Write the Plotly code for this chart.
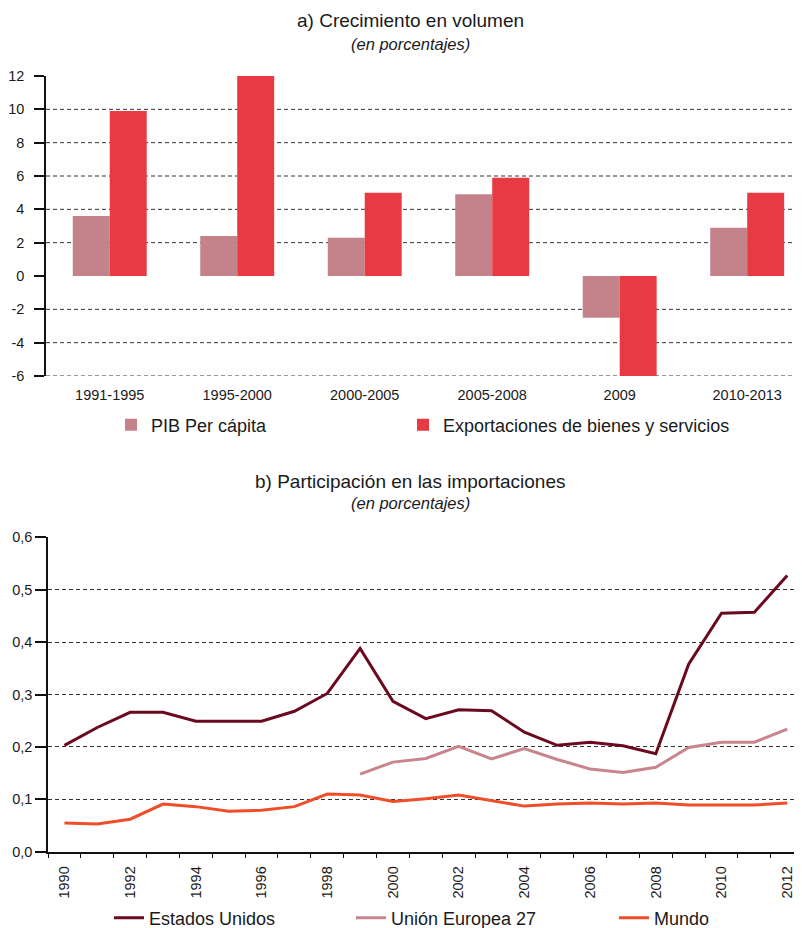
import plotly.graph_objects as go

# ---------------- data: panel a ----------------
periods = ["1991-1995", "1995-2000", "2000-2005", "2005-2008", "2009", "2010-2013"]
pib_per_capita = [3.6, 2.4, 2.3, 4.9, -2.5, 2.9]
exportaciones = [9.9, 12.1, 5.0, 5.9, -6.0, 5.0]
ytick_vals_a = [-6, -4, -2, 0, 2, 4, 6, 8, 10, 12]
ytick_text_a = ["-6", "-4", "-2", "0", "2", "4", "6", "8", "10", "12"]
grid_vals_a = [-6, -4, -2, 2, 4, 6, 8, 10]

# ---------------- data: panel b ----------------
years = list(range(1990, 2013))
estados_unidos = [0.203, 0.237, 0.266, 0.266, 0.249, 0.249, 0.249, 0.268, 0.302, 0.388,
                  0.287, 0.254, 0.271, 0.269, 0.228, 0.203, 0.209, 0.202, 0.187, 0.358,
                  0.455, 0.457, 0.527]
union_europea = [None] * 9 + [0.148, 0.171, 0.178, 0.201, 0.177, 0.197, 0.176, 0.158,
                              0.151, 0.161, 0.199, 0.209, 0.209, 0.234]
mundo = [0.055, 0.053, 0.062, 0.091, 0.086, 0.077, 0.079, 0.086, 0.110, 0.108,
         0.096, 0.101, 0.108, 0.098, 0.087, 0.091, 0.093, 0.091, 0.093, 0.089,
         0.089, 0.089, 0.093]
xtick_years_b = list(range(1990, 2013, 2))
ytick_vals_b = [0.0, 0.1, 0.2, 0.3, 0.4, 0.5, 0.6]
ytick_text_b = ["0,0", "0,1", "0,2", "0,3", "0,4", "0,5", "0,6"]

# ---------------- styling ----------------
PAGE_OFF = 8            # default body margin of the html page
W, H = 802 - PAGE_OFF, 928 - PAGE_OFF
FONT = "Liberation Sans, Arial, sans-serif"
TXT = "#1a1a1a"
C_PIB = "#c4828a"
C_EXP = "#e83a42"
C_US = "#6b0a1e"
C_EU = "#c9858d"
C_MUNDO = "#f04e28"

def py(px):
    return 1 - (px - PAGE_OFF) / H

def pxx(px):
    return (px - PAGE_OFF) / W

dom_a = [py(376), py(76)]
dom_b = [py(851.7), py(537.3)]
xdom_a = [pxx(46), 1]
xdom_b = [pxx(48), 1]

fig = go.Figure()

fig.add_trace(go.Bar(x=periods, y=pib_per_capita, name="PIB Per cápita",
                     marker=dict(color=C_PIB, line=dict(width=0)),
                     xaxis="x", yaxis="y", legend="legend"))
fig.add_trace(go.Bar(x=periods, y=exportaciones, name="Exportaciones de bienes y servicios",
                     marker=dict(color=C_EXP, line=dict(width=0)),
                     xaxis="x", yaxis="y", legend="legend2"))

fig.add_trace(go.Scatter(x=years, y=estados_unidos, name="Estados Unidos", mode="lines",
                         line=dict(color=C_US, width=3), xaxis="x3", yaxis="y3",
                         legend="legend3"))
fig.add_trace(go.Scatter(x=years, y=union_europea, name="Unión Europea 27", mode="lines",
                         line=dict(color=C_EU, width=3), xaxis="x3", yaxis="y3",
                         legend="legend4"))
fig.add_trace(go.Scatter(x=years, y=mundo, name="Mundo", mode="lines",
                         line=dict(color=C_MUNDO, width=3), xaxis="x3", yaxis="y3",
                         legend="legend5"))

# gridlines panel a (no line at the top value)
shapes = []
for v in grid_vals_a:
    shapes.append(dict(type="line", xref="x domain", yref="y", x0=0, x1=1, y0=v, y1=v,
                       line=dict(color="#333333", width=1, dash="4px,3px"), layer="below"))

zero_pos = dom_a[0] + (dom_a[1] - dom_a[0]) * (0 - (-6)) / 18.0

xrange_a = [-0.5, 5.43]

def leg(text_x_px, y_px):
    return dict(x=pxx(text_x_px - 41), y=py(y_px), xanchor="left", yanchor="middle",
                orientation="h", bgcolor="rgba(0,0,0,0)",
                font=dict(family=FONT, size=18, color=TXT))

def title(text, y_px, size):
    return dict(text=text, x=pxx(410), y=py(y_px), xref="paper", yref="paper",
                xanchor="center", yanchor="middle", showarrow=False,
                font=dict(family=FONT, size=size, color=TXT))

fig.update_layout(
    width=W, height=H,
    margin=dict(l=0, r=0, t=0, b=0, autoexpand=False),
    paper_bgcolor="white", plot_bgcolor="white",
    font=dict(family=FONT, size=14, color=TXT),
    barmode="group", bargap=0.42, bargroupgap=0,
    showlegend=True,
    shapes=shapes,
    xaxis=dict(domain=xdom_a, anchor="y", type="category", range=xrange_a,
               showline=False, ticks="", showgrid=False, automargin=False,
               tickfont=dict(size=14.5, color=TXT), ticklabelstandoff=8),
    xaxis2=dict(domain=xdom_a, overlaying="x", anchor="free", position=zero_pos,
                range=xrange_a, showline=True, linecolor="#111111", linewidth=1.5,
                ticks="outside", tickmode="linear", tick0=-0.5, dtick=1,
                ticklen=6, tickwidth=1.5, tickcolor="#111111", automargin=False,
                showticklabels=False, showgrid=False, zeroline=False),
    yaxis=dict(domain=dom_a, anchor="x", range=[-6, 12], tickmode="array",
               tickvals=ytick_vals_a, ticktext=ytick_text_a, automargin=False,
               showline=True, linecolor="#111111", linewidth=1.5,
               ticks="outside", ticklen=10, tickwidth=1.5, tickcolor="#111111",
               ticklabelstandoff=7,
               showgrid=False, zeroline=False, tickfont=dict(size=14.5, color=TXT)),
    xaxis3=dict(domain=xdom_b, anchor="y3", range=[1989.5, 2012.45], automargin=False,
                tickmode="array", tickvals=xtick_years_b, ticktext=[str(y) for y in xtick_years_b],
                tickangle=-90, ticks="", ticklabelstandoff=7,
                showline=True, linecolor="#111111", linewidth=1.5,
                showgrid=False, zeroline=False,
                minor=dict(ticks="outside", tickmode="linear", tick0=1989.5, dtick=1,
                           ticklen=5, tickwidth=1.2, tickcolor="#111111", showgrid=False),
                tickfont=dict(size=14.5, color=TXT)),
    yaxis3=dict(domain=dom_b, anchor="x3", range=[0, 0.6], tickmode="array",
                tickvals=ytick_vals_b, ticktext=ytick_text_b, automargin=False,
                showline=True, linecolor="#111111", linewidth=1.5,
                ticks="outside", ticklen=11, tickwidth=1.5, tickcolor="#111111",
                showgrid=True, gridcolor="#333333", gridwidth=1, griddash="4px,3px",
                zeroline=False, tickfont=dict(size=14.5, color=TXT)),
    legend=leg(152, 425),
    legend2=leg(444, 425),
    legend3=leg(150, 918),
    legend4=leg(392, 918),
    legend5=leg(655, 918),
    annotations=[
        title("a) Crecimiento en volumen", 20, 19),
        title("<i>(en porcentajes)</i>", 44, 16.5),
        title("b) Participación en las importaciones", 481, 19),
        title("<i>(en porcentajes)</i>", 503, 16.5),
    ],
)

fig.write_html("out.html")
